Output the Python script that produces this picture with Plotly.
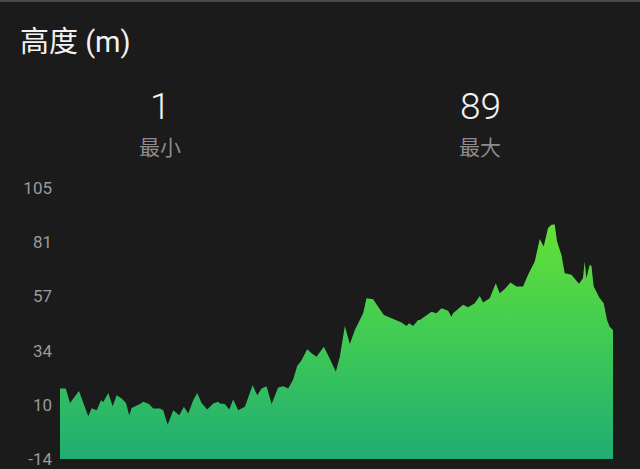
import plotly.graph_objects as go

# ---- data ----
distance = [0.0, 1.03, 1.81, 3.43, 5.11, 5.73, 6.63, 7.41, 7.83, 8.73, 9.52, 10.25, 11.15, 11.93,
            12.52, 12.96, 14.46, 15.06, 16.09, 16.86, 18.07, 18.67, 19.47, 20.48, 21.56, 22.41,
            23.19, 24.09, 24.81, 25.61, 26.62, 27.71, 28.61, 28.92, 29.82, 30.6, 31.32, 32.22,
            33.44, 34.83, 35.66, 36.45, 37.36, 38.26, 39.45, 40.36, 41.26, 42.17, 42.89, 43.68,
            44.70, 45.49, 46.39, 47.71, 48.49, 49.88, 50.60, 51.51, 52.41, 53.32, 54.22, 54.82,
            55.43, 56.62, 57.71, 58.56, 59.95, 61.76, 62.66, 63.13, 63.86, 64.76, 65.07, 67.18,
            68.08, 68.99, 70.18, 70.79, 71.08, 72.89, 73.79, 75.0, 75.91, 76.5, 77.71, 78.8,
            79.52, 80.43, 81.46, 82.54, 83.73, 84.64, 85.85, 86.75, 87.47, 88.25, 88.87, 89.46,
            89.88, 90.67, 91.27, 92.48, 93.85, 94.57, 94.88, 95.18, 95.79, 96.1, 96.51, 97.6,
            98.32, 98.92, 99.4, 100.0]
altitude = [17.0, 17.0, 10.6, 15.9, 4.8, 8.3, 7.4, 11.8, 11.0, 15.0, 9.2, 14.0, 12.6, 10.6,
            5.2, 8.4, 10.1, 11.1, 10.1, 8.2, 8.2, 7.4, 1.0, 7.4, 5.2, 8.9,
            6.0, 11.8, 15.0, 10.6, 7.7, 10.4, 11.1, 10.4, 10.1, 7.7, 12.1, 7.4,
            8.9, 18.4, 14.0, 17.0, 18.0, 10.1, 17.4, 18.0, 17.0, 20.9, 26.8, 29.4,
            34.2, 32.4, 30.9, 35.3, 31.6, 24.3, 30.9, 44.4, 36.5, 42.6, 47.0, 50.0,
            56.6, 56.2, 52.2, 49.2, 47.8, 45.9, 44.4, 45.6, 44.4, 47.0, 47.0, 50.7,
            50.0, 52.2, 51.1, 48.5, 50.0, 53.7, 52.6, 54.4, 57.6, 54.7, 56.6, 63.2,
            58.8, 60.6, 63.5, 61.7, 61.7, 66.9, 72.7, 82.6, 79.3, 87.4, 88.9, 89.0,
            81.5, 75.7, 67.6, 66.9, 62.9, 65.4, 72.7, 65.4, 71.3, 70.8, 61.7, 56.6,
            54.4, 47.0, 44.1, 42.6]

y_min_axis = -14
y_max_axis = 105
tick_vals = [-14, 9.8, 33.6, 57.4, 81.2, 105]
tick_text = ["-14", "10", "34", "57", "81", "105"]

title_text = "高度 (m)"
stat_values = ["1", "89"]
stat_labels = ["最小", "最大"]

# ---- layout geometry ----
W, H = 640, 469
ML, MR, MT, MB = 60, 27, 188, 10
PW, PH = W - ML - MR, H - MT - MB


def px(x):
    return (x - ML) / PW


def py(y):
    return (H - MB - y) / PH


BG = "#1b1b1b"

fig = go.Figure()
fig.add_trace(go.Scatter(
    x=[distance[0], distance[-1]], y=[y_min_axis, y_min_axis],
    mode="lines", line=dict(width=0), hoverinfo="skip", showlegend=False))
fig.add_trace(go.Scatter(
    x=distance, y=altitude, mode="lines", line=dict(width=0, color="#4fd44a"),
    fill="tonexty",
    fillgradient=dict(type="vertical", start=y_min_axis, stop=max(altitude),
                      colorscale=[[0, "#20ad72"], [0.55, "#42cc52"], [1, "#64e036"]]),
    showlegend=False))

font_fam = "Roboto, 'Noto Sans CJK SC', sans-serif"
annotations = [
    dict(text=title_text, x=px(18), y=py(42), xanchor="left", yanchor="middle",
         font=dict(family=font_fam, size=29, color="#f2f2f2")),
]
stat_x = [160, 480]
for sx, v, lab in zip(stat_x, stat_values, stat_labels):
    annotations.append(dict(text=v, x=px(sx), y=py(106), xanchor="center", yanchor="middle",
                            font=dict(family=font_fam, size=37, color="#f2f2f2", weight=300)))
    annotations.append(dict(text=lab, x=px(sx), y=py(148), xanchor="center", yanchor="middle",
                            font=dict(family=font_fam, size=21, color="#8c8c8c")))
for a in annotations:
    a.update(xref="paper", yref="paper", showarrow=False)

fig.update_layout(
    width=W, height=H,
    margin=dict(l=ML, r=MR, t=MT, b=MB, pad=0),
    paper_bgcolor=BG, plot_bgcolor=BG,
    annotations=annotations,
    shapes=[dict(type="rect", xref="paper", yref="paper", x0=px(0), x1=px(W),
                 y0=py(2), y1=py(0), fillcolor="#4a4a4a", line=dict(width=0), layer="above")],
    xaxis=dict(visible=False, range=[distance[0], distance[-1]], fixedrange=True,
               automargin=False),
    yaxis=dict(range=[y_min_axis, y_max_axis], tickvals=tick_vals, ticktext=tick_text,
               showgrid=False, zeroline=False, showline=False, ticks="",
               ticklabelstandoff=7, automargin=False,
               tickfont=dict(family=font_fam, size=17, color="#9a9a9a"), fixedrange=True),
    showlegend=False,
)

fig.write_html("out.html", config={"displayModeBar": False},
               post_script="document.body.style.margin='0';document.body.style.background='#1b1b1b';")
